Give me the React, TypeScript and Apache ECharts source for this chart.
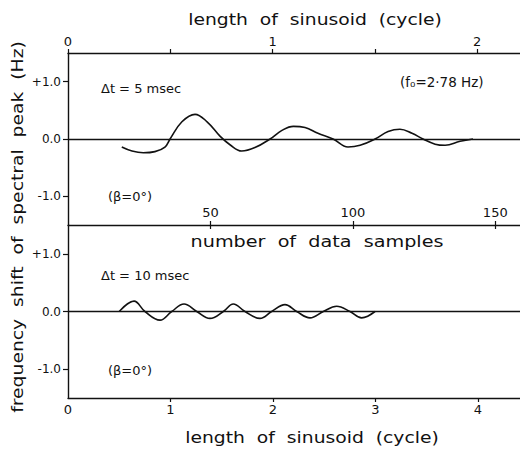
import React, { useEffect, useRef } from "react";
import * as echarts from "echarts";

// top panel: dt = 5 msec, x in cycles
const topCycles = [0.263, 0.313, 0.368, 0.425, 0.474, 0.499, 0.557, 0.621, 0.68, 0.743, 0.792, 0.849, 0.914, 0.988, 1.046, 1.102, 1.159, 1.222, 1.296, 1.369, 1.428, 1.501, 1.565, 1.623, 1.682, 1.736, 1.795, 1.844, 1.917, 1.98];
const topShift = [-0.14, -0.21, -0.24, -0.22, -0.14, 0, 0.3, 0.43, 0.3, 0.05, -0.1, -0.21, -0.15, 0, 0.15, 0.22, 0.2, 0.1, 0, -0.14, -0.11, 0, 0.13, 0.17, 0.1, 0, -0.09, -0.11, -0.04, 0];

// bottom panel: dt = 10 msec, x in cycles
const botCycles = [0.5, 0.644, 0.751, 0.898, 1.012, 1.132, 1.256, 1.385, 1.515, 1.613, 1.727, 1.873, 1.987, 2.117, 2.231, 2.361, 2.491, 2.621, 2.751, 2.865, 2.995];
const botShift = [0, 0.18, 0, -0.15, 0, 0.13, 0, -0.12, 0, 0.13, 0, -0.12, 0, 0.12, 0, -0.11, 0, 0.09, 0, -0.11, 0];

const yTicks = [-1, 0, 1];
const topCycleTicks = [0, 0.5, 1, 1.5, 2];
const topCycleLabels = [0, 1, 2];
const sampleTicks = [50, 100, 150];
const botCycleTicks = [1, 2, 3, 4];
const botCycleLabels = [0, 1, 2, 3, 4];

const TOP_MAX_CYCLES = 2.21;
const SAMPLES_PER_CYCLE = 71.8;
const BOT_MAX_CYCLES = 4.41;

const FONT = "DejaVu Sans";
const INK = "#111";

export default function App() {
  const ref = useRef<HTMLDivElement>(null);
  useEffect(() => {
    document.body.style.margin = "0";
    const chart = echarts.init(ref.current!, null, { renderer: "svg" });
    const yAxisBase = (gridIndex: number) => ({
      type: "value",
      gridIndex,
      min: -1.5,
      max: 1.5,
      splitLine: { show: false },
      axisLine: { show: true, onZero: false, lineStyle: { color: INK, width: 1.4 } },
      axisTick: { show: true, customValues: yTicks, length: 5, lineStyle: { color: INK, width: 1.2 } },
      axisLabel: {
        customValues: yTicks,
        formatter: (v: number) => (v > 0 ? "+" + v.toFixed(1) : v.toFixed(1)),
        color: INK,
        fontFamily: FONT,
        fontSize: 12,
        margin: 7,
      },
    });
    const zeroLine = {
      silent: true,
      symbol: ["none", "none"],
      label: { show: false },
      lineStyle: { color: INK, width: 1.3, type: "solid" },
      data: [{ yAxis: 0 }],
    };
    const axisName = (text: string, x: number, y: number, size: number, sx: number, rot = 0) => ({
      type: "text",
      x,
      y,
      rotation: rot,
      scaleX: sx,
      style: { text, fill: INK, font: `${size}px "${FONT}"`, align: "center", verticalAlign: "middle" },
    });
    const option = {
      animation: false,
      backgroundColor: "#fff",
      grid: [
        { left: 68, right: 0, top: 53, height: 172 },
        { left: 68, right: 0, top: 225, height: 173 },
      ],
      xAxis: [
        {
          type: "value",
          gridIndex: 0,
          position: "top",
          min: 0,
          max: TOP_MAX_CYCLES,
          splitLine: { show: false },
          axisLine: { show: true, onZero: false, lineStyle: { color: INK, width: 1.4 } },
          axisTick: { show: true, customValues: topCycleTicks, length: 4, lineStyle: { color: INK, width: 1.2 } },
          axisLabel: { customValues: topCycleLabels, color: INK, fontFamily: FONT, fontSize: 13, margin: 5 },
        },
        {
          type: "value",
          gridIndex: 0,
          position: "bottom",
          min: 0,
          max: TOP_MAX_CYCLES * SAMPLES_PER_CYCLE,
          splitLine: { show: false },
          axisLine: { show: true, onZero: false, lineStyle: { color: INK, width: 1.4 } },
          axisTick: { show: true, inside: true, customValues: sampleTicks, length: 4, lineStyle: { color: INK, width: 1.2 } },
          axisLabel: { inside: true, customValues: sampleTicks, color: INK, fontFamily: FONT, fontSize: 13, margin: 6 },
        },
        {
          type: "value",
          gridIndex: 0,
          position: "bottom",
          min: 0,
          max: TOP_MAX_CYCLES * SAMPLES_PER_CYCLE,
          splitLine: { show: false },
          axisLine: { show: false, onZero: false },
          axisTick: { show: true, customValues: sampleTicks, length: 4, lineStyle: { color: INK, width: 1.2 } },
          axisLabel: { show: false },
        },
        {
          type: "value",
          gridIndex: 1,
          position: "bottom",
          min: 0,
          max: BOT_MAX_CYCLES,
          splitLine: { show: false },
          axisLine: { show: true, onZero: false, lineStyle: { color: INK, width: 1.4 } },
          axisTick: { show: true, customValues: botCycleTicks, length: 4, lineStyle: { color: INK, width: 1.2 } },
          axisLabel: { customValues: botCycleLabels, color: INK, fontFamily: FONT, fontSize: 13, margin: 5 },
        },
      ],
      yAxis: [yAxisBase(0), yAxisBase(1)],
      series: [
        {
          type: "line",
          xAxisIndex: 0,
          yAxisIndex: 0,
          data: topCycles.map((c, i) => [c, topShift[i]]),
          smooth: 0.4,
          showSymbol: false,
          lineStyle: { color: INK, width: 1.6 },
          markLine: zeroLine,
        },
        {
          type: "line",
          xAxisIndex: 3,
          yAxisIndex: 1,
          data: botCycles.map((c, i) => [c, botShift[i]]),
          smooth: 0.4,
          showSymbol: false,
          lineStyle: { color: INK, width: 1.6 },
          markLine: zeroLine,
        },
      ],
      graphic: [
        axisName("frequency  shift  of  spectral  peak  (Hz)", 18, 227, 15, 1.25, Math.PI / 2),
        axisName("length  of  sinusoid  (cycle)", 315, 20, 15, 1.25),
        axisName("number  of  data  samples", 317, 242, 16, 1.2),
        axisName("length  of  sinusoid  (cycle)", 312, 438, 15, 1.25),
        { type: "text", x: 101, y: 88, style: { text: "Δt = 5 msec", fill: INK, font: `13px "${FONT}"`, verticalAlign: "middle" } },
        { type: "text", x: 400, y: 82, style: { text: "(f₀=2·78 Hz)", fill: INK, font: `13.5px "${FONT}"`, verticalAlign: "middle" } },
        { type: "text", x: 108, y: 196, style: { text: "(β=0°)", fill: INK, font: `13px "${FONT}"`, verticalAlign: "middle" } },
        { type: "text", x: 101, y: 275, style: { text: "Δt = 10 msec", fill: INK, font: `13px "${FONT}"`, verticalAlign: "middle" } },
        { type: "text", x: 108, y: 370, style: { text: "(β=0°)", fill: INK, font: `13px "${FONT}"`, verticalAlign: "middle" } },
      ],
    };
    chart.setOption(option as any);
    return () => chart.dispose();
  }, []);
  return <div ref={ref} style={{ width: 520, height: 450 }} />;
}
